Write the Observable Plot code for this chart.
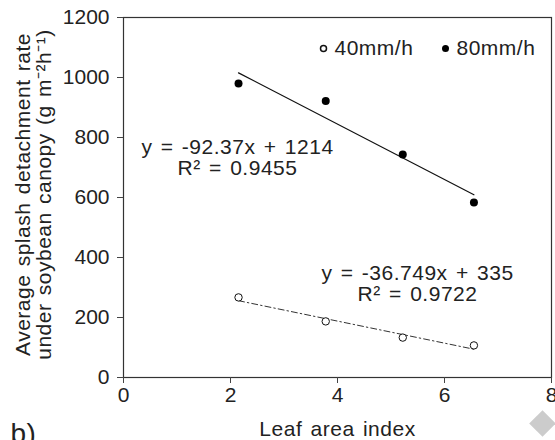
<!DOCTYPE html>
<html><head><meta charset="utf-8">
<script src="https://cdn.jsdelivr.net/npm/d3@7"></script>
<script src="https://cdn.jsdelivr.net/npm/@observablehq/plot@0.6"></script>
<style>
body{margin:0;background:#fff;}
svg{font-family:"Liberation Sans",Arial,sans-serif;}
svg g[aria-label="text"] text{letter-spacing:0.5px;word-spacing:2px;}
</style>
</head><body><div id="chart"></div>
<script>
const lai = [2.15, 3.78, 5.22, 6.55];
const rate40 = [267, 187, 133, 107];
const rate80 = [980, 922, 743, 583];
const fit40 = {slope: -36.749, intercept: 335, label: "y = -36.749x + 335", r2: "R² = 0.9722"};
const fit80 = {slope: -92.37, intercept: 1214, label: "y = -92.37x + 1214", r2: "R² = 0.9455"};
const xTicks = [0, 2, 4, 6, 8];
const yTicks = [0, 200, 400, 600, 800, 1000, 1200];

const pts40 = lai.map((x, i) => ({x, y: rate40[i]}));
const pts80 = lai.map((x, i) => ({x, y: rate80[i]}));
const xEnds = [lai[0], lai[lai.length - 1]];
const line40 = xEnds.map(x => ({x, y: fit40.slope * x + fit40.intercept}));
const line80 = xEnds.map(x => ({x, y: fit80.slope * x + fit80.intercept}));
const ink = "#222";
const fs = 21;

const chart = Plot.plot({
  width: 555, height: 440,
  marginLeft: 123, marginRight: 4, marginTop: 17, marginBottom: 63,
  style: {fontSize: fs + "px", color: ink, fontFamily: "Liberation Sans, Arial, sans-serif", overflow: "visible"},
  x: {domain: [0, 8]},
  y: {domain: [0, 1200]},
  marks: [
    Plot.frame({stroke: "#333", strokeWidth: 1.2}),
    Plot.axisX({ticks: xTicks, tickSize: 6, tickPadding: 4, label: null, tickFormat: d => String(d), fontSize: fs, stroke: "#444", fill: ink}),
    Plot.axisY({ticks: yTicks, tickSize: 6, tickPadding: 8, label: null, tickFormat: d => String(d), fontSize: fs, stroke: "#444", fill: ink}),
    Plot.text(["Leaf area index"], {frameAnchor: "bottom", dy: 52, lineAnchor: "middle", fontSize: fs, fill: ink}),
    Plot.text(["Average splash detachment rate\nunder soybean canopy (g m⁻²h⁻¹)"], {frameAnchor: "left", rotate: -90, dx: -90, dy: -3, textAnchor: "middle", lineAnchor: "middle", lineHeight: 1.02, fontSize: fs, fill: ink}),
    Plot.text(["b)"], {frameAnchor: "bottom-left", dx: -113, dy: 46, fontSize: 28, textAnchor: "start", lineAnchor: "top", fill: ink}),
    Plot.line(line80, {x: "x", y: "y", stroke: "#111", strokeWidth: 1.2}),
    Plot.line(line40, {x: "x", y: "y", stroke: "#333", strokeWidth: 1, strokeDasharray: "6,3,1.5,3"}),
    Plot.dot(pts80, {x: "x", y: "y", r: 4, fill: "#000", stroke: "none"}),
    Plot.dot(pts40, {x: "x", y: "y", r: 3.7, fill: "#fff", stroke: "#111", strokeWidth: 1}),
    Plot.text([fit80.label + "\n" + fit80.r2], {frameAnchor: "top-left", dx: 114, dy: 140, textAnchor: "middle", lineAnchor: "middle", lineHeight: 1.0, fontSize: fs, fill: ink}),
    Plot.text([fit40.label + "\n" + fit40.r2], {frameAnchor: "top-left", dx: 294, dy: 266, textAnchor: "middle", lineAnchor: "middle", lineHeight: 1.04, fontSize: fs, fill: ink}),
    Plot.dot(["40mm/h"], {frameAnchor: "top-left", dx: 200, dy: 31, r: 3, fill: "#fff", stroke: "#111"}),
    Plot.text(["40mm/h"], {frameAnchor: "top-left", dx: 211, dy: 31, textAnchor: "start", lineAnchor: "middle", fontSize: fs, fill: ink}),
    Plot.dot(["80mm/h"], {frameAnchor: "top-left", dx: 322, dy: 31, r: 3.5, fill: "#000"}),
    Plot.text(["80mm/h"], {frameAnchor: "top-left", dx: 333, dy: 31, textAnchor: "start", lineAnchor: "middle", fontSize: fs, fill: ink}),
    Plot.dot(["mark"], {frameAnchor: "bottom-right", dx: -9, dy: 46, r: 12, symbol: "diamond2", fill: "#ccc", stroke: "none"})
  ]
});
document.getElementById("chart").appendChild(chart);
</script>
</body></html>
